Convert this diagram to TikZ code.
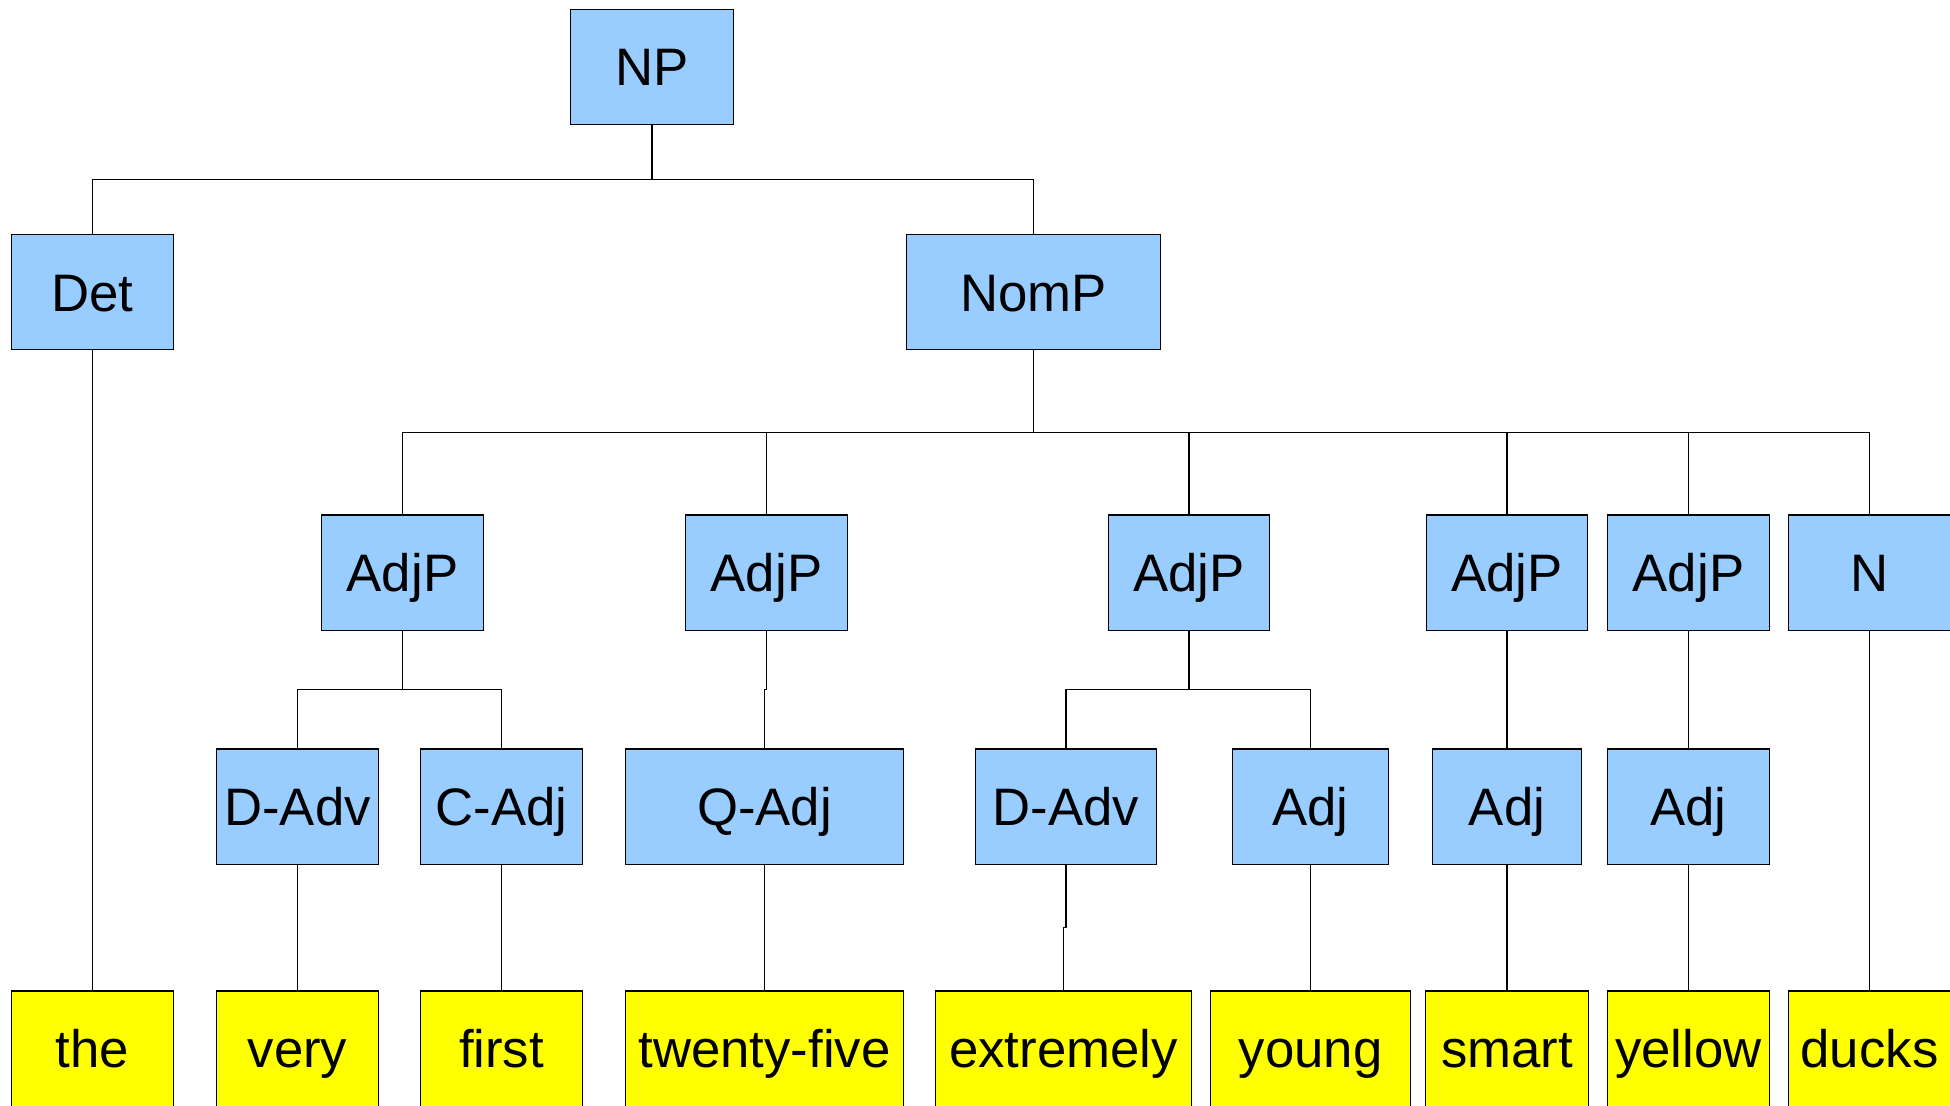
\documentclass[tikz,border=0pt]{standalone}
\usepackage{fontspec}
\setmainfont{Liberation Sans}
\usepackage{xcolor}
\usepackage{tikz}
\usetikzlibrary{calc}

\definecolor{catblue}{HTML}{99CCFF}
\definecolor{wordyellow}{HTML}{FFFF00}

\tikzset{
    cat/.style={draw, rectangle, fill=catblue, line width=0.3pt, inner sep=0pt,
        minimum width=1.61cm, minimum height=1.15cm, text height=10.8pt, text depth=0pt,
        font=\fontsize{15}{18}\selectfont},
    word/.style={cat, fill=wordyellow},
    branch/.style={line width=0.3pt, to path={|- ($(\tikztostart)!0.5!(\tikztotarget)$) -| (\tikztotarget)}}
}

\begin{document}
\begin{tikzpicture}[x=0.01cm, y=-0.01cm]
        \useasboundingbox (0,0) rectangle (1950,1105);

        % Define top nodes
        \node[cat, minimum width=1.62cm] (NP) at (652,67) {NP};
        \node[cat] (Det) at (92.5,292) {Det};
        \node[cat, minimum width=2.53cm] (NomP) at (1033.5,292) {NomP};

        % Define phrase nodes under NomP
        \node[cat] (AdjP1) at (402.5,572.5) {AdjP};
        \node[cat] (AdjP2) at (766.5,572.5) {AdjP};
        \node[cat] (AdjP3) at (1189,572.5) {AdjP};
        \node[cat] (AdjP4) at (1507,572.5) {AdjP};
        \node[cat] (AdjP5) at (1688.5,572.5) {AdjP};
        \node[cat] (N) at (1869.5,572.5) {N};

        % Define word classes
        \node[cat] (DAdv1) at (297.5,806.5) {D-Adv};
        \node[cat] (CAdj) at (501.5,806.5) {C-Adj};
        \node[cat, minimum width=2.77cm] (QAdj) at (764.5,806.5) {Q-Adj};
        \node[cat, minimum width=1.815cm] (DAdv2) at (1066,806.5) {D-Adv};
        \node[cat, minimum width=1.55cm] (Adj1) at (1310.5,806.5) {Adj};
        \node[cat, minimum width=1.48cm] (Adj2) at (1507,806.5) {Adj};
        \node[cat, minimum width=1.62cm] (Adj3) at (1688.5,806.5) {Adj};

        % Define words
        \node[word] (the) at (92.5,1048.5) {the};
        \node[word] (very) at (297.5,1048.5) {very};
        \node[word] (first) at (501.5,1048.5) {first};
        \node[word, minimum width=2.77cm] (twentyfive) at (764.5,1048.5) {twenty-five};
        \node[word, minimum width=2.55cm] (extremely) at (1063.5,1048.5) {extremely};
        \node[word, minimum width=1.99cm] (young) at (1310.5,1048.5) {young};
        \node[word, minimum width=1.62cm] (smart) at (1507,1048.5) {smart};
        \node[word, minimum width=1.62cm] (yellow) at (1688.5,1048.5) {yellow};
        \node[word] (ducks) at (1869.5,1048.5) {ducks};

        % Define branches
        \draw[branch] (NP.south) to (Det.north);
        \draw[branch] (NP.south) to (NomP.north);
        \draw[branch] (NomP.south) to (AdjP1.north);
        \draw[branch] (NomP.south) to (AdjP2.north);
        \draw[branch] (NomP.south) to (AdjP3.north);
        \draw[branch] (NomP.south) to (AdjP4.north);
        \draw[branch] (NomP.south) to (AdjP5.north);
        \draw[branch] (NomP.south) to (N.north);
        \draw[branch] (AdjP1.south) to (DAdv1.north);
        \draw[branch] (AdjP1.south) to (CAdj.north);
        \draw[branch] (AdjP2.south) to (QAdj.north);
        \draw[branch] (AdjP3.south) to (DAdv2.north);
        \draw[branch] (AdjP3.south) to (Adj1.north);
        \draw[branch] (AdjP4.south) to (Adj2.north);
        \draw[branch] (AdjP5.south) to (Adj3.north);

        % Define leaves
        \draw[branch] (Det.south) to (the.north);
        \draw[branch] (DAdv1.south) to (very.north);
        \draw[branch] (CAdj.south) to (first.north);
        \draw[branch] (QAdj.south) to (twentyfive.north);
        \draw[branch] (DAdv2.south) to (extremely.north);
        \draw[branch] (Adj1.south) to (young.north);
        \draw[branch] (Adj2.south) to (smart.north);
        \draw[branch] (Adj3.south) to (yellow.north);
        \draw[branch] (N.south) to (ducks.north);
    \end{tikzpicture}
\end{document}
